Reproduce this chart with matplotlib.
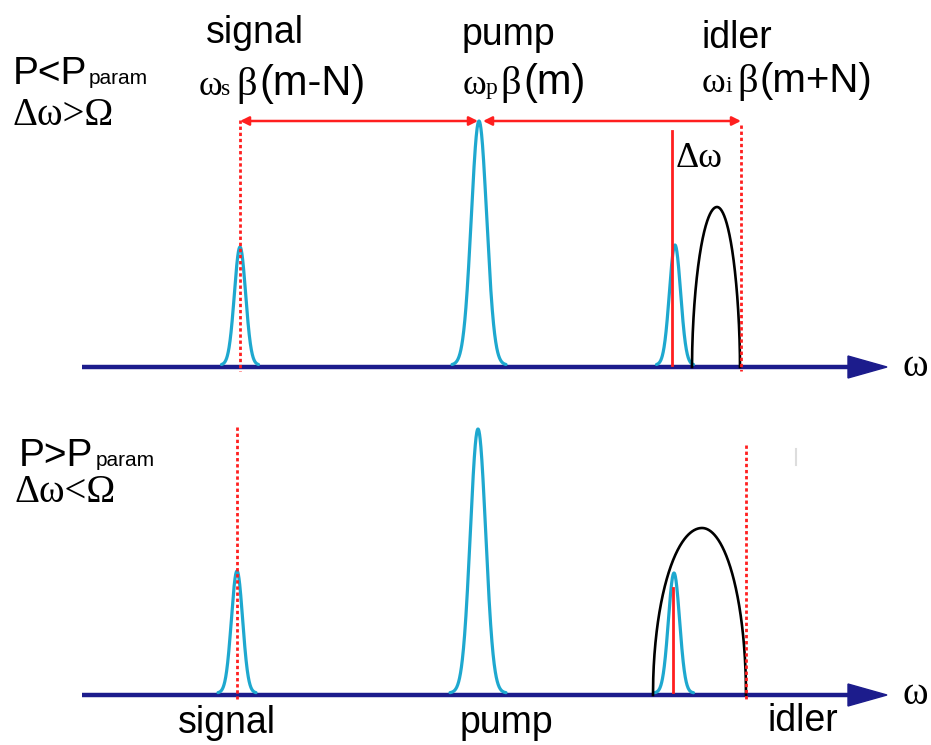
import numpy as np
import matplotlib
matplotlib.use("Agg")
import matplotlib.pyplot as plt
from matplotlib.patches import Polygon

# ---------------- data (frequency axis in drawing units) ----------------
# upper panel (P < P_param)
top_base = 367
top_peak_centers = [240, 479, 675]        # signal, pump, idler seed
top_peak_heights = [118, 244, 120]
top_peak_sigmas = [5.6, 7.7, 5.6]
top_peak_halfspan = [18.5, 27, 18.5]
top_gain_lobe = [692, 717, 740]          # start, peak, end of parametric gain
top_gain_height = 160
top_markers = [240, 741]                  # dotted frequency markers (signal, idler)
top_marker_top = [120, 125]
top_shift_line = 672                      # solid red line (Δω)
top_shift_top = 131

# lower panel (P > P_param)
bot_base = 695
bot_peak_centers = [237, 478, 674]
bot_peak_heights = [122, 264, 120]
bot_peak_sigmas = [5.6, 7.7, 5.6]
bot_peak_halfspan = [19, 28, 19.5]
bot_gain_lobe = [653, 702, 746]
bot_gain_height = 167
bot_markers = [237, 746]
bot_marker_top = [427, 445]
bot_shift_line = 673
bot_shift_top = 588

axis_x = [82, 887]

CYAN = "#1ea8cf"
NAVY = "#1c1c8c"
RED = "#ff1f1f"

fig = plt.figure(figsize=(9.31, 7.45), dpi=100)
ax = fig.add_axes([0, 0, 1, 1])
ax.set_xlim(0, 931)
ax.set_ylim(745, 0)
ax.axis("off")

SANS = "Liberation Sans"
SERIF = "Liberation Serif"


def draw_axis(y):
    ax.plot([axis_x[0], axis_x[1] - 38], [y, y], color=NAVY, lw=3.2,
            solid_capstyle="butt", zorder=2)
    tri = Polygon([[axis_x[1] - 39, y - 11], [axis_x[1], y], [axis_x[1] - 39, y + 11]],
                  closed=True, color=NAVY, zorder=3)
    ax.add_patch(tri)
    ax.text(axis_x[1] + 15, y, "ω", family=SERIF, fontsize=28, va="center",
            ha="left", color="black")


def draw_peaks(base, centers, heights, sigmas, spans):
    for c, h, s, sp in zip(centers, heights, sigmas, spans):
        x = np.linspace(c - sp, c + sp, 300)
        y = base - 2 - h * np.exp(-(x - c) ** 2 / (2 * s ** 2))
        ax.plot(x, y, color=CYAN, lw=2.3, zorder=4, solid_capstyle="round")


def draw_lobe(base, lobe, h, p=0.55):
    x0, xp, x1 = lobe
    xl = np.linspace(x0, xp, 200)
    xr = np.linspace(xp, x1, 200)
    ul = (xl - xp) / (xp - x0)
    ur = (xr - xp) / (x1 - xp)
    yl = base - h * np.clip(1 - ul ** 2, 0, 1) ** p
    yr = base - h * np.clip(1 - ur ** 2, 0, 1) ** p
    ax.plot(np.r_[xl, xr], np.r_[yl, yr], color="black", lw=1.9, zorder=5)


def draw_markers(base, xs, tops):
    for x, t in zip(xs, tops):
        ax.plot([x, x], [t, base + 4], color=RED, lw=2.0,
                linestyle=(0, (1.2, 1.0)), zorder=6)


# ---------------- upper panel ----------------
draw_axis(top_base)
draw_peaks(top_base, top_peak_centers, top_peak_heights, top_peak_sigmas, top_peak_halfspan)
draw_lobe(top_base, top_gain_lobe, top_gain_height)
draw_markers(top_base, top_markers, top_marker_top)
ax.plot([top_shift_line, top_shift_line], [top_shift_top, top_base - 2], color=RED, lw=2.0, zorder=6)

arrow_y = 121
for a, b in [(top_markers[0], top_peak_centers[1] - 1), (top_peak_centers[1] + 4, top_markers[1])]:
    ax.annotate("", xy=(b, arrow_y), xytext=(a, arrow_y),
                arrowprops=dict(arrowstyle="<|-|>", color=RED, lw=1.8,
                                mutation_scale=13, shrinkA=0, shrinkB=0), zorder=7)

# ---------------- lower panel ----------------
draw_axis(bot_base)
draw_peaks(bot_base, bot_peak_centers, bot_peak_heights, bot_peak_sigmas, bot_peak_halfspan)
draw_lobe(bot_base, bot_gain_lobe, bot_gain_height, p=0.5)
draw_markers(bot_base, bot_markers, bot_marker_top)
ax.plot([bot_shift_line, bot_shift_line], [bot_shift_top, bot_base - 3], color=RED, lw=2.0, zorder=6)

# small grey artefact
ax.plot([796, 796], [449, 465], color="#dddddd", lw=1.5)

# ---------------- text ----------------
def t(x, y, s, fam=SANS, size=27, **kw):
    ax.text(x, y, s, family=fam, fontsize=size, ha="left", va="baseline", color="black", **kw)

# headers
t(206, 43, "signal")
t(462, 45, "pump")
t(701, 48, "idler")

t(199, 95, "ω", SERIF, 26)
t(221, 95, "s", SERIF, 17)
t(236, 95, "β", SERIF, 29)
t(259, 95, "(m-N)", SANS, 30)

t(463, 94, "ω", SERIF, 26)
t(486, 94, "p", SERIF, 17)
t(500, 94, "β", SERIF, 29)
t(523, 94, "(m)", SANS, 30)

t(702, 92, "ω", SERIF, 26)
t(726, 92, "i", SERIF, 17)
t(737, 92, "β", SERIF, 29)
t(760, 92, "(m+N)", SANS, 29)

t(676, 167, "Δω", SERIF, 26)

# left conditions
t(13, 84, "P<P", SANS, 28)
t(89, 84, "param", SANS, 15)
t(12, 125, "Δω>Ω", SERIF, 28)

t(19, 466, "P>P", SANS, 28)
t(96, 466, "param", SANS, 15)
t(14, 502, "Δω<Ω", SERIF, 28)

# bottom labels
t(178, 733, "signal")
t(460, 733, "pump")
t(768, 731, "idler")

fig.savefig("out.png", dpi=100)
